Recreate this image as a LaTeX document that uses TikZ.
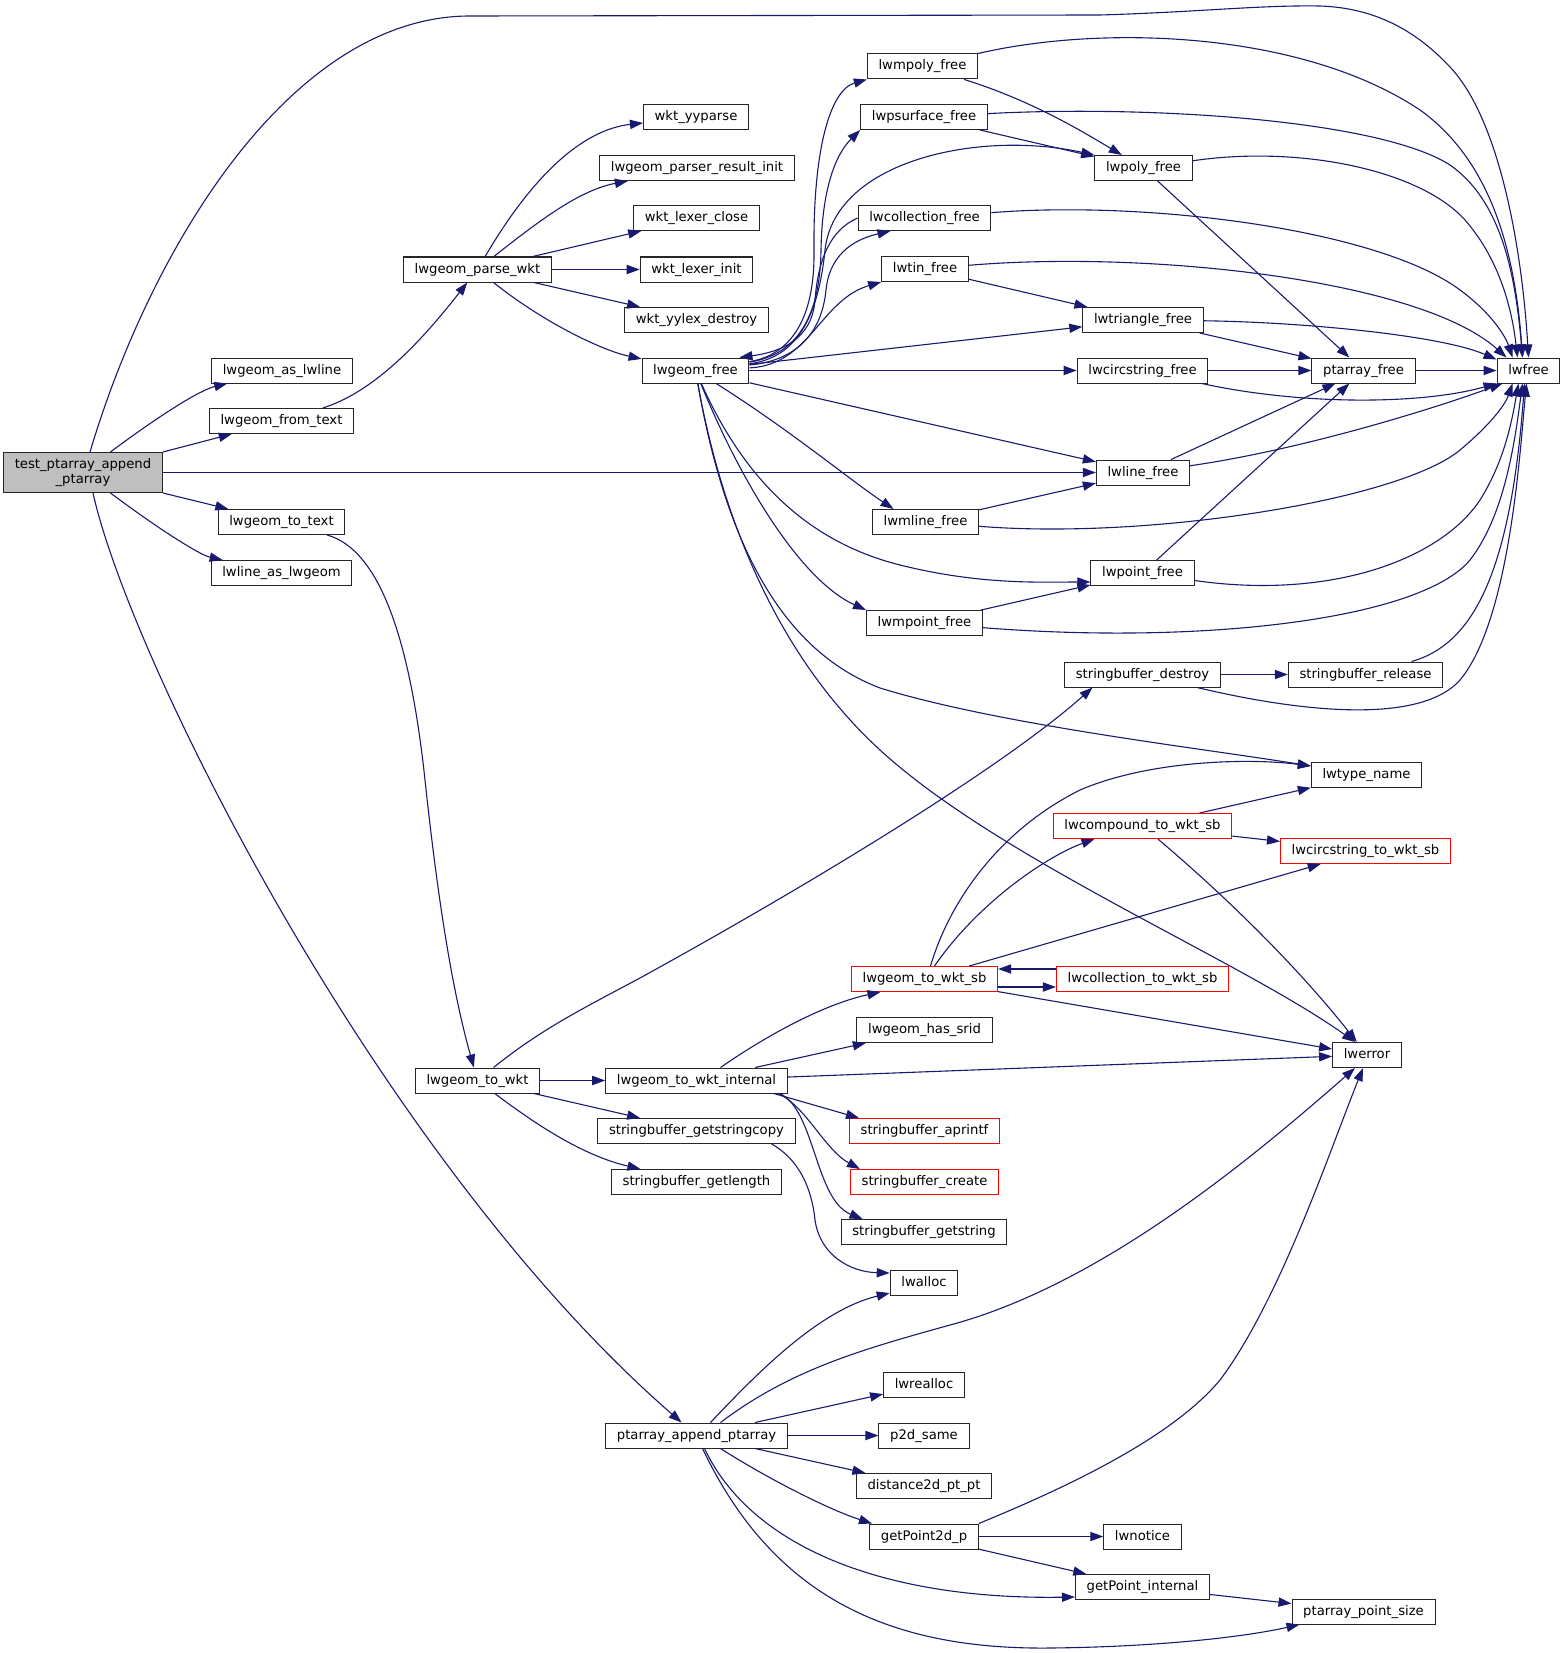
\documentclass[tikz,border=0pt]{standalone}
\usepackage{fontspec}
\setmainfont{DejaVu Sans}
\usepackage{xcolor}
\usetikzlibrary{arrows.meta}
\definecolor{edgeblue}{HTML}{191970}
\definecolor{rootgray}{HTML}{BFBFBF}

\begin{document}
\begin{tikzpicture}[x=0.5pt,y=-0.5pt,
	fnbox/.style={draw=black!85, line width=0.5pt, fill=white, inner xsep=5.6pt, inner ysep=0pt, font=\fontsize{6.6}{7.5}\selectfont},
	func/.style={fnbox, minimum height=12.5pt, text height=5pt, text depth=1.5pt},
	redfunc/.style={func, draw=red},
	rootfunc/.style={fnbox, fill=rootgray, align=center, minimum height=20pt},
	callarrow/.style={-{Triangle[length=6.5pt,width=4.6pt]}, edgeblue, line width=0.55pt}]
	\useasboundingbox (0,0) rectangle (1565,1653);
	\node[rootfunc] (tpa) at (83,472.5) {test\_ptarray\_append\\\_ptarray};
	\node[func] (asLine) at (282,370.5) {lwgeom\_as\_lwline};
	\node[func] (fromText) at (281.5,421) {lwgeom\_from\_text};
	\node[func] (toText) at (281.5,522) {lwgeom\_to\_text};
	\node[func] (lineAsGeom) at (281.5,573) {lwline\_as\_lwgeom};
	\node[func] (parseWkt) at (477.5,269.5) {lwgeom\_parse\_wkt};
	\node[func] (toWkt) at (477.5,1080.5) {lwgeom\_to\_wkt};
	\node[func] (yyparse) at (696,117) {wkt\_yyparse};
	\node[func] (parserInit) at (697,168) {lwgeom\_parser\_result\_init};
	\node[func] (lexClose) at (696.5,218) {wkt\_lexer\_close};
	\node[func] (lexInit) at (696.5,269.5) {wkt\_lexer\_init};
	\node[func] (yylexDestroy) at (696.5,320) {wkt\_yylex\_destroy};
	\node[func] (geomFree) at (695.5,370.5) {lwgeom\_free};
	\node[func] (toWktInt) at (696.5,1080.5) {lwgeom\_to\_wkt\_internal};
	\node[func] (sbCopy) at (696.5,1131) {stringbuffer\_getstringcopy};
	\node[func] (sbLength) at (696.5,1182) {stringbuffer\_getlength};
	\node[func] (appendPa) at (696.5,1435.5) {ptarray\_append\_ptarray};
	\node[func] (mpolyFree) at (922.5,66.5) {lwmpoly\_free};
	\node[func] (psurfFree) at (924,117) {lwpsurface\_free};
	\node[func] (collFree) at (924.5,218) {lwcollection\_free};
	\node[func] (tinFree) at (925,269) {lwtin\_free};
	\node[func] (mlineFree) at (925.5,522) {lwmline\_free};
	\node[func] (mpointFree) at (924.5,623) {lwmpoint\_free};
	\node[redfunc] (toWktSb) at (924.5,979) {lwgeom\_to\_wkt\_sb};
	\node[func] (hasSrid) at (924.5,1030) {lwgeom\_has\_srid};
	\node[redfunc] (sbPrintf) at (924.5,1131) {stringbuffer\_aprintf};
	\node[redfunc] (sbCreate) at (924.5,1182) {stringbuffer\_create};
	\node[func] (sbGetString) at (924,1232) {stringbuffer\_getstring};
	\node[func] (lwalloc) at (924,1283) {lwalloc};
	\node[func] (lwrealloc) at (924,1385) {lwrealloc};
	\node[func] (p2dSame) at (924,1435.5) {p2d\_same};
	\node[func] (dist2d) at (924,1486) {distance2d\_pt\_pt};
	\node[func] (getP2d) at (924,1536.5) {getPoint2d\_p};
	\node[func] (polyFree) at (1143.5,168) {lwpoly\_free};
	\node[func] (triFree) at (1143,320) {lwtriangle\_free};
	\node[func] (circFree) at (1142.5,370.5) {lwcircstring\_free};
	\node[func] (lineFree) at (1143,472.5) {lwline\_free};
	\node[func] (pointFree) at (1142.5,573) {lwpoint\_free};
	\node[func] (sbDestroy) at (1142.5,674.5) {stringbuffer\_destroy};
	\node[redfunc] (compToWkt) at (1142.5,826) {lwcompound\_to\_wkt\_sb};
	\node[redfunc] (collToWkt) at (1142.5,979) {lwcollection\_to\_wkt\_sb};
	\node[func] (lwnotice) at (1142.5,1536.5) {lwnotice};
	\node[func] (getPtInt) at (1142.5,1587) {getPoint\_internal};
	\node[func] (paFree) at (1363.5,370.5) {ptarray\_free};
	\node[func] (sbRelease) at (1365.5,674.5) {stringbuffer\_release};
	\node[func] (typeName) at (1366.5,775) {lwtype\_name};
	\node[redfunc] (circToWkt) at (1365.5,851) {lwcircstring\_to\_wkt\_sb};
	\node[func] (lwerror) at (1367,1055) {lwerror};
	\node[func] (paPtSize) at (1363.5,1611.5) {ptarray\_point\_size};
	\node[func] (lwfree) at (1528.5,370.5) {lwfree};

	\draw[callarrow] ([xshift=3.5pt]tpa.north) .. controls (150,250) and (290,16) .. (470,16) -- (1100,15) .. controls (1200,12) and (1260,5) .. (1320,6) .. controls (1380,8) and (1420,35) .. (1450,67) .. controls (1500,120) and (1522,250) .. (lwfree.north);
	\draw[callarrow] (tpa) .. controls (160,415) and (200,390) .. (asLine);
	\draw[callarrow] (tpa.north east) -- (fromText);
	\draw[callarrow] (tpa.east) -- (lineFree);
	\draw[callarrow] (tpa.south east) -- (toText);
	\draw[callarrow] (tpa) .. controls (160,530) and (200,555) .. (lineAsGeom);
	\draw[callarrow] ([xshift=5pt]tpa.south) .. controls (130,660) and (380,1160) .. (appendPa);
	\draw[callarrow] (fromText) .. controls (380,390) and (430,330) .. (parseWkt);
	\draw[callarrow] (toText) .. controls (380,550) and (410,640) .. (425,780) .. controls (440,920) and (455,1000) .. (toWkt);

	\draw[callarrow] (parseWkt) .. controls (530,180) and (580,130) .. (yyparse);
	\draw[callarrow] (parseWkt) .. controls (540,220) and (580,190) .. (parserInit);
	\draw[callarrow] (parseWkt) -- (lexClose);
	\draw[callarrow] (parseWkt) -- (lexInit);
	\draw[callarrow] (parseWkt) -- (yylexDestroy);
	\draw[callarrow] (parseWkt) .. controls (540,320) and (600,350) .. (geomFree);

	\draw[callarrow] (geomFree) .. controls (790,355) and (815,320) .. (814,250) .. controls (813,150) and (830,90) .. (mpolyFree.south west);
	\draw[callarrow] (geomFree) .. controls (795,355) and (820,320) .. (821,250) .. controls (822,190) and (835,155) .. (psurfFree.south west);
	\draw[callarrow] (geomFree) .. controls (795,358) and (818,320) .. (825,250) .. controls (835,160) and (980,130) .. (polyFree.north west);
	\draw[callarrow] (collFree.west) .. controls (830,230) and (818,260) .. (815,300) .. controls (812,340) and (780,352) .. ([xshift=-5pt]geomFree.north east);
	\draw[callarrow] (geomFree) .. controls (800,360) and (822,330) .. (826,290) .. controls (830,250) and (860,238) .. ([xshift=-17pt]collFree.south);
	\draw[callarrow] (geomFree) .. controls (810,365) and (820,300) .. (tinFree.south west);
	\draw[callarrow] (geomFree) -- (triFree);
	\draw[callarrow] (geomFree) -- (circFree);
	\draw[callarrow] (geomFree) -- (lineFree);
	\draw[callarrow] (geomFree) .. controls (790,430) and (850,480) .. ([xshift=-16pt]mlineFree.north);
	\draw[callarrow] (geomFree) .. controls (740,470) and (800,540) .. (900,565) .. controls (980,585) and (1040,582) .. ([yshift=2pt]pointFree.south west);
	\draw[callarrow] (geomFree) .. controls (740,480) and (800,580) .. (mpointFree.north west);
	\draw[callarrow] (geomFree) .. controls (725,540) and (780,650) .. (880,688) .. controls (1000,725) and (1200,748) .. ([yshift=-2pt]typeName.north west);
	\draw[callarrow] (geomFree) .. controls (715,480) and (760,640) .. (880,750) .. controls (1000,860) and (1240,960) .. ([xshift=-6pt]lwerror.north);

	\draw[callarrow] (mpolyFree) .. controls (1030,100) and (1080,130) .. (polyFree);
	\draw[callarrow] (mpolyFree) .. controls (1100,25) and (1300,30) .. (1420,110) .. controls (1490,160) and (1515,250) .. ([xshift=-3pt]lwfree.north);
	\draw[callarrow] (psurfFree) -- (polyFree);
	\draw[callarrow] (psurfFree) .. controls (1150,105) and (1380,120) .. (1450,165) .. controls (1500,200) and (1515,270) .. ([xshift=-3pt]lwfree.north);
	\draw[callarrow] (polyFree) -- (paFree);
	\draw[callarrow] (polyFree) .. controls (1300,145) and (1420,170) .. (1465,220) .. controls (1500,260) and (1512,310) .. ([xshift=-5.5pt]lwfree.north);
	\draw[callarrow] (collFree) .. controls (1150,200) and (1380,230) .. (1460,290) .. controls (1490,312) and (1505,335) .. ([xshift=-8pt]lwfree.north);
	\draw[callarrow] (tinFree) -- (triFree);
	\draw[callarrow] (tinFree) .. controls (1150,250) and (1420,280) .. ([xshift=-11pt]lwfree.north);
	\draw[callarrow] (triFree) -- (paFree);
	\draw[callarrow] (triFree) .. controls (1300,322) and (1440,335) .. ([yshift=-1pt]lwfree.north west);
	\draw[callarrow] (circFree) -- (paFree);
	\draw[callarrow] (circFree) .. controls (1300,405) and (1420,405) .. (lwfree.south west);
	\draw[callarrow] (paFree) -- (lwfree);
	\draw[callarrow] (lineFree) -- (paFree);
	\draw[callarrow] (lineFree) .. controls (1300,450) and (1430,410) .. ([xshift=3pt]lwfree.south west);
	\draw[callarrow] (mlineFree) -- (lineFree);
	\draw[callarrow] (mlineFree) .. controls (1150,540) and (1400,500) .. (1460,450) .. controls (1490,425) and (1505,405) .. ([xshift=-8pt]lwfree.south);
	\draw[callarrow] (pointFree) -- (paFree);
	\draw[callarrow] (pointFree) .. controls (1330,600) and (1440,560) .. (1480,500) .. controls (1505,460) and (1512,420) .. ([xshift=-5pt]lwfree.south);
	\draw[callarrow] (mpointFree) -- (pointFree);
	\draw[callarrow] (mpointFree) .. controls (1200,645) and (1420,620) .. (1470,560) .. controls (1505,515) and (1515,440) .. ([xshift=-3pt]lwfree.south);
	\draw[callarrow] (sbDestroy) -- (sbRelease);
	\draw[callarrow] (sbDestroy) .. controls (1300,712) and (1420,725) .. (1460,680) .. controls (1510,620) and (1520,450) .. ([xshift=-1pt]lwfree.south);
	\draw[callarrow] (sbRelease) .. controls (1470,645) and (1510,580) .. ([xshift=-2pt]lwfree.south);

	\draw[callarrow] (toWkt) .. controls (540,1030) and (580,1010) .. (640,978) .. controls (800,890) and (1000,770) .. ([xshift=-25pt]sbDestroy.south);
	\draw[callarrow] (toWkt) -- (toWktInt);
	\draw[callarrow] (toWkt) -- (sbCopy);
	\draw[callarrow] (toWkt) .. controls (530,1120) and (580,1155) .. (sbLength);
	\draw[callarrow] ([xshift=-12pt]sbCopy.south east) .. controls (800,1160) and (812,1190) .. (815,1220) .. controls (820,1255) and (850,1272) .. ([yshift=-1.5pt]lwalloc.north west);
	\draw[callarrow] ([xshift=12pt]toWktInt.north) .. controls (760,1040) and (820,1005) .. ([xshift=-22pt]toWktSb.south);
	\draw[callarrow] (toWktInt) -- (hasSrid);
	\draw[callarrow] (toWktInt) -- (lwerror);
	\draw[callarrow] ([xshift=-7pt]toWktInt.south east) -- ([xshift=5pt]sbPrintf.north west);
	\draw[callarrow] ([xshift=-5pt]toWktInt.south east) .. controls (805,1105) and (825,1150) .. ([xshift=5pt]sbCreate.north west);
	\draw[callarrow] ([xshift=-4pt]toWktInt.south east) .. controls (815,1110) and (815,1200) .. ([xshift=11pt]sbGetString.north west);
	\draw[callarrow] ([xshift=3pt]toWktSb.north) .. controls (950,900) and (1000,830) .. (1080,790) .. controls (1150,760) and (1250,758) .. ([yshift=-2pt]typeName.north west);
	\draw[callarrow] ([xshift=5pt]toWktSb.north) .. controls (980,900) and (1050,855) .. ([xshift=-24pt]compToWkt.south);
	\draw[callarrow] (toWktSb) -- (circToWkt);
	\draw[callarrow] ([yshift=-4pt]toWktSb.east) -- ([yshift=-4pt]collToWkt.west);
	\draw[callarrow] ([yshift=5pt]collToWkt.west) -- ([yshift=5pt]toWktSb.east);
	\draw[callarrow] (toWktSb) -- (lwerror);
	\draw[callarrow] (compToWkt) -- (typeName);
	\draw[callarrow] (compToWkt) -- (circToWkt);
	\draw[callarrow] (compToWkt) .. controls (1230,900) and (1300,970) .. (lwerror);

	\draw[callarrow] ([xshift=7pt]appendPa.north) .. controls (760,1370) and (820,1310) .. ([yshift=1.5pt]lwalloc.south west);
	\draw[callarrow] ([xshift=12pt]appendPa.north) .. controls (790,1370) and (860,1350) .. (950,1325) .. controls (1100,1285) and (1250,1160) .. ([xshift=-6pt]lwerror.south);
	\draw[callarrow] (appendPa) -- (lwrealloc);
	\draw[callarrow] (appendPa) -- (p2dSame);
	\draw[callarrow] (appendPa) -- (dist2d);
	\draw[callarrow] ([xshift=12pt]appendPa.south) .. controls (770,1480) and (830,1510) .. ([xshift=-26pt]getP2d.north);
	\draw[callarrow] ([xshift=4pt]appendPa.south) .. controls (750,1545) and (880,1600) .. ([yshift=1.5pt]getPtInt.south west);
	\draw[callarrow] ([xshift=3pt]appendPa.south) .. controls (770,1590) and (880,1650) .. (1050,1648) .. controls (1150,1647) and (1240,1638) .. ([xshift=4pt]paPtSize.south west);
	\draw[callarrow] (getP2d.north east) .. controls (1060,1490) and (1170,1440) .. (1220,1380) .. controls (1280,1300) and (1330,1150) .. ([xshift=-2pt]lwerror.south);
	\draw[callarrow] (getP2d) -- (lwnotice);
	\draw[callarrow] (getP2d) -- (getPtInt);
	\draw[callarrow] (getPtInt) -- (paPtSize);
\end{tikzpicture}
\end{document}
